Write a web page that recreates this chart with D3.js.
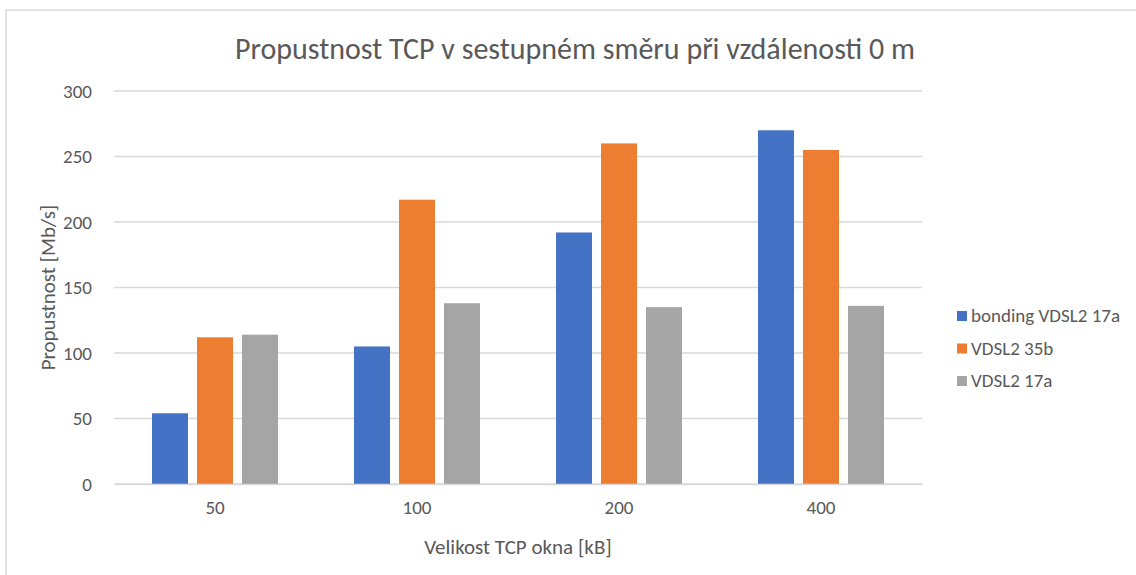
<!DOCTYPE html>
<html>
<head>
<meta charset="utf-8">
<script src="https://cdn.jsdelivr.net/npm/d3@7"></script>
<style>
  body { margin: 0; background: #fff; }
  text { font-family: Calibri, Carlito, Lato, sans-serif; fill: #595959; }
</style>
</head>
<body>
<div id="chart"></div>
<script>
// data
const windows = ["50", "100", "200", "400"];
const seriesNames = ["bonding VDSL2 17a", "VDSL2 35b", "VDSL2 17a"];
const bonding17a = [54, 105, 192, 270];
const vdsl35b = [112, 217, 260, 255];
const vdsl17a = [114, 138, 135, 136];
const colors = ["#4472c4", "#ed7d31", "#a5a5a5"];
const yTicks = [0, 50, 100, 150, 200, 250, 300];

const values = [bonding17a, vdsl35b, vdsl17a];
const rows = windows.map((w, i) => ({ w: w, vals: values.map(s => s[i]) }));

const W = 1136, H = 575;
const plotLeft = 114, plotRight = 922, plotTop = 91, plotBottom = 484;
const fontStack = "Calibri, Carlito, Lato, sans-serif";

const svg = d3.select("#chart").append("svg")
    .attr("width", W)
    .attr("height", H);

// outer frame
svg.append("rect")
    .attr("x", 6).attr("y", 10)
    .attr("width", W).attr("height", H)
    .attr("fill", "none")
    .attr("stroke", "#d9d9d9")
    .attr("stroke-width", 1.5);

const x = d3.scaleBand()
    .domain(windows)
    .range([plotLeft, plotRight]);

const inner = d3.scaleBand()
    .domain(d3.range(3))
    .range([38, x.bandwidth() - 38])
    .paddingInner(0.2);

const y = d3.scaleLinear()
    .domain([0, 300])
    .range([plotBottom, plotTop]);

// gridlines
svg.append("g")
    .selectAll("line")
    .data(yTicks)
    .enter()
    .append("line")
        .attr("x1", plotLeft)
        .attr("x2", plotRight)
        .attr("y1", d => y(d))
        .attr("y2", d => y(d))
        .attr("stroke", "#d9d9d9")
        .attr("stroke-width", 1.3);

// y tick labels
const yAxis = svg.append("g")
    .attr("transform", `translate(${plotLeft},0)`)
    .call(d3.axisLeft(y).tickValues(yTicks).tickSize(0).tickPadding(22));
yAxis.select(".domain").remove();
yAxis.selectAll("text")
    .attr("font-size", 19)
    .style("font-family", fontStack)
    .attr("fill", "#595959");

// bars
const groups = svg.append("g")
    .selectAll("g")
    .data(rows)
    .enter()
    .append("g")
        .attr("transform", d => `translate(${x(d.w)},0)`);

groups.selectAll("rect")
    .data(d => d.vals)
    .enter()
    .append("rect")
        .attr("x", (d, i) => inner(i))
        .attr("y", d => y(d))
        .attr("width", inner.bandwidth())
        .attr("height", d => plotBottom - y(d))
        .attr("fill", (d, i) => colors[i]);

// x axis
const xAxis = svg.append("g")
    .attr("transform", `translate(0,${plotBottom})`)
    .call(d3.axisBottom(x).tickSize(0).tickPadding(17));
xAxis.select(".domain")
    .attr("stroke", "#d9d9d9")
    .attr("stroke-width", 1.3);
xAxis.selectAll("text")
    .attr("font-size", 19)
    .style("font-family", fontStack)
    .attr("fill", "#595959");

// titles
svg.append("text")
    .attr("x", 575)
    .attr("y", 59)
    .attr("text-anchor", "middle")
    .attr("font-size", 30)
    .style("font-weight", 300)
    .text("Propustnost TCP v sestupném směru při vzdálenosti 0 m");

svg.append("text")
    .attr("x", (plotLeft + plotRight) / 2)
    .attr("y", 554)
    .attr("text-anchor", "middle")
    .attr("font-size", 21)
    .text("Velikost TCP okna [kB]");

svg.append("text")
    .attr("transform", `translate(55,${(plotTop + plotBottom) / 2}) rotate(-90)`)
    .attr("text-anchor", "middle")
    .attr("font-size", 21)
    .text("Propustnost [Mb/s]");

// legend
const legend = svg.append("g")
    .selectAll("g")
    .data(seriesNames)
    .enter()
    .append("g")
        .attr("transform", (d, i) => `translate(957,${316 + i * 32.5})`);

legend.append("rect")
    .attr("x", 0)
    .attr("y", -5)
    .attr("width", 10)
    .attr("height", 10)
    .attr("fill", (d, i) => colors[i]);

legend.append("text")
    .attr("x", 14)
    .attr("y", 6)
    .attr("font-size", 19)
    .text(d => d);
</script>
</body>
</html>
